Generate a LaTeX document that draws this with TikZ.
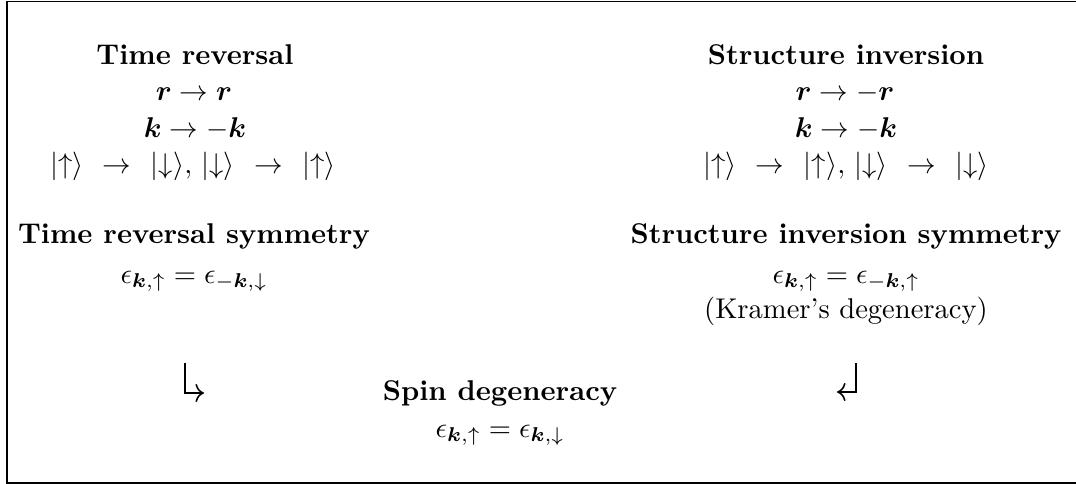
\documentclass[tikz,border=0pt]{standalone}
\usepackage{amsmath,amssymb,bm}
\usetikzlibrary{arrows.meta}
\newcommand{\kt}[1]{|{#1}\rangle}
\newcommand{\gap}{\hspace{4pt}}
\begin{document}
\begin{tikzpicture}[x=0.35pt,y=-0.35pt,
  lbl/.style={anchor=base,inner sep=0pt},
  hd/.style={lbl,font=\bfseries},
  turn/.style={line width=0.55pt,-{Computer Modern Rightarrow[length=3pt,width=6.4pt]}}]
\useasboundingbox (0,0) rectangle (1076,484);
\draw[line width=0.5pt] (1080,1.5) -- (7,1.5) -- (7,483) -- (1080,483);

% left block
\node[hd]  (tr)  at (195,64)  {Time reversal};
\node[lbl] (tr1) at (194,100) {$\bm{r}\to\bm{r}$};
\node[lbl] (tr2) at (195,137) {$\bm{k}\to-\bm{k}$};
\node[lbl] (tr3) at (193,173) {$\kt{\uparrow}\gap\to\gap\kt{\downarrow},\,\kt{\downarrow}\gap\to\gap\kt{\uparrow}$};

% right block
\node[hd]  (si)  at (846,64)  {Structure inversion};
\node[lbl] (si1) at (845,100) {$\bm{r}\to-\bm{r}$};
\node[lbl] (si2) at (846,137) {$\bm{k}\to-\bm{k}$};
\node[lbl] (si3) at (846,173) {$\kt{\uparrow}\gap\to\gap\kt{\uparrow},\,\kt{\downarrow}\gap\to\gap\kt{\downarrow}$};

% symmetries
\node[hd]  (trs)  at (194,243) {Time reversal symmetry};
\node[lbl] (trs1) at (194,283) {$\epsilon_{\bm{k},\uparrow}=\epsilon_{-\bm{k},\downarrow}$};
\node[hd]  (sis)  at (846,243) {Structure inversion symmetry};
\node[lbl] (sis1) at (846,283) {$\epsilon_{\bm{k},\uparrow}=\epsilon_{-\bm{k},\uparrow}$};
\node[lbl] (sis2) at (846,318) {(Kramer's degeneracy)};

% spin degeneracy
\node[hd]  (sd)  at (500,400) {Spin degeneracy};
\node[lbl] (sd1) at (500,437) {$\epsilon_{\bm{k},\uparrow}=\epsilon_{\bm{k},\downarrow}$};

% turn arrows
\coordinate (la) at (185,363);
\coordinate (lb) at (204,393);
\coordinate (ra) at (856,363);
\coordinate (rb) at (837,392);
\draw[turn] (la) |- (lb);
\draw[turn] (ra) |- (rb);
\end{tikzpicture}
\end{document}
